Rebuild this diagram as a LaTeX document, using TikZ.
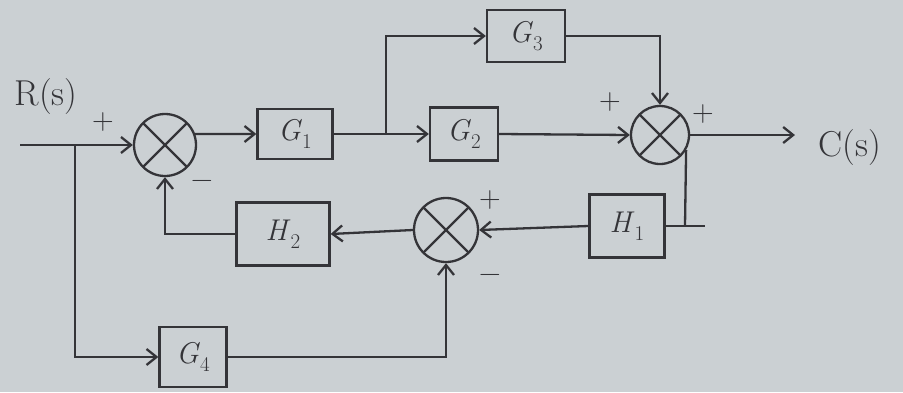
\documentclass[tikz,border=0pt]{standalone}
\usepackage{fontspec}
\usetikzlibrary{arrows.meta}
\definecolor{paper}{RGB}{203,208,211}
\definecolor{ink}{RGB}{52,52,56}
\newcommand{\blab}[2]{\textit{#1}\raisebox{-0.28em}{\fontsize{21}{22}\selectfont #2}}
\begin{document}
\begin{tikzpicture}[x=1pt,y=-1pt,
  line width=2.3pt, draw=ink, text=ink,
  font=\fontsize{30}{32}\selectfont,
  blk/.style={draw=ink, rectangle, inner sep=0pt},
  sumj/.style={draw=ink, circle, inner sep=0pt,
    path picture={\draw[ink, line width=2.3pt]
      (path picture bounding box.north west) -- (path picture bounding box.south east)
      (path picture bounding box.south west) -- (path picture bounding box.north east);}},
  arr/.style={draw=ink, -{Straight Barb[length=10pt,width=16pt]}},
  lbl/.style={inner sep=0pt},
  sig/.style={inner sep=0pt, font=\fontsize{36}{38}\selectfont}]
\fill[paper] (0,0) rectangle (903,392);
\useasboundingbox (0,0) rectangle (903,392);

% blocks
\node[blk, minimum width=75pt, minimum height=50pt] (G1) at (295,134) {\blab{G}{1}};
\node[blk, minimum width=68pt, minimum height=53pt] (G2) at (464,134) {\blab{G}{2}};
\node[blk, minimum width=78pt, minimum height=52pt] (G3) at (526,36) {\blab{G}{3}};
\node[blk, minimum width=75pt, minimum height=63pt] (H1) at (627,226) {\blab{H}{1}};
\node[blk, minimum width=93pt, minimum height=63pt] (H2) at (283,234) {\blab{H}{2}};
\node[blk, minimum width=67pt, minimum height=60pt] (G4) at (193,357) {\blab{G}{4}};

% summing junctions
\node[sumj, minimum size=62pt] (S1) at (165,145) {};
\node[sumj, minimum size=58pt] (S2) at (660,135) {};
\node[sumj, minimum size=64pt] (S3) at (446,230) {};

% coordinates
\coordinate (in) at (20,145);
\coordinate (b1) at (75,145);
\coordinate (b2) at (386,134);
\coordinate (out) at (795,135);
\coordinate (b3) at (685,226);
\coordinate (stub) at (705,226);

% labels
\node[sig] (R) at (46,97) {R(s)};
\node[sig] (C) at (850,148) {C(s)};
\node[lbl] (p1) at (103,122) {+};
\node[lbl] (m1) at (202,184) {−};
\node[lbl] (p2) at (610,102) {+};
\node[lbl] (p3) at (703,114) {+};
\node[lbl] (p4) at (490,200) {+};
\node[lbl] (m3) at (490,278) {−};

% connectors
\draw[arr] (in) -- (S1.west);
\draw[arr] (b1) |- (G4.west);
\draw[arr] (S1.20) -- (G1.west);
\draw[arr] (G1.east) -- (G2.west);
\draw[arr] (b2) |- (G3.west);
\draw[arr] (G2.east) -- (S2.west);
\draw[arr] (G3.east) -| (S2.north);
\draw[arr] (S2.east) -- (out);
\draw (S2.-30) -- (b3);
\draw (H1.east) -- (stub);
\draw[arr] (H1.west) -- (S3.east);
\draw[arr] (S3.west) -- (H2.east);
\draw[arr] (H2.west) -| (S1.south);
\draw[arr] (G4.east) -| (S3.south);
\end{tikzpicture}
\end{document}
